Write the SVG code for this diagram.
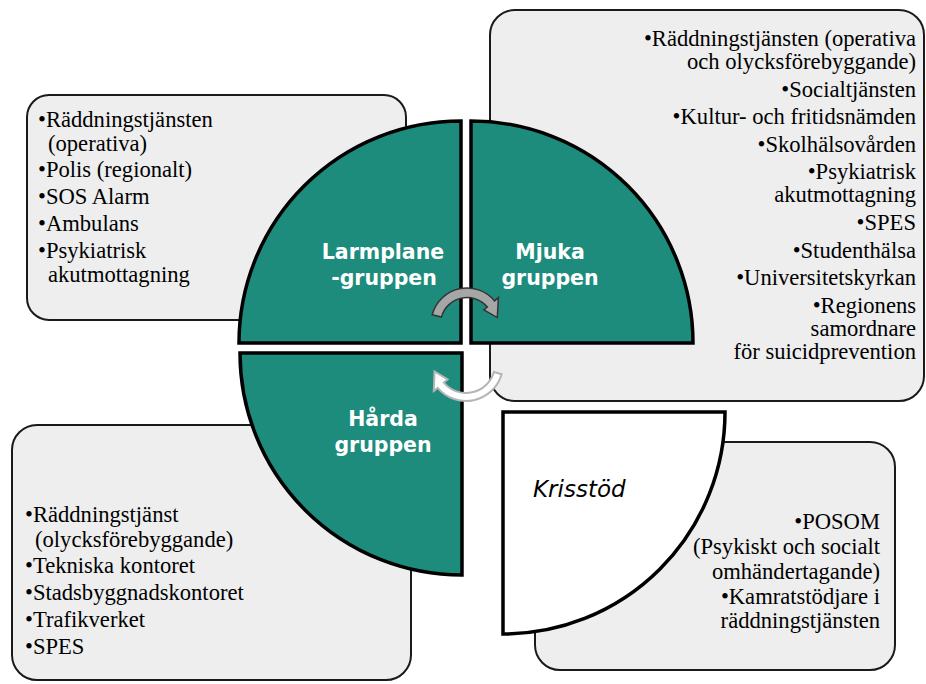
<svg xmlns="http://www.w3.org/2000/svg" width="926" height="684" viewBox="0 0 926 684">
<style>
.box{fill:#eeeeee;stroke:#1a1a1a;stroke-width:2}
.quad{fill:#1d8c7d;stroke:#000;stroke-width:3.5;stroke-linejoin:miter}
.kris{fill:#fff;stroke:#000;stroke-width:3.5}
.lbl{font-family:"DejaVu Sans",Verdana,sans-serif;font-weight:bold;font-size:20.5px;fill:#fff;text-anchor:middle}
.it{font-family:"DejaVu Sans",Verdana,sans-serif;font-style:italic;font-size:23px;fill:#000}
.t{font-family:'Liberation Serif','Times New Roman',Times,serif;font-size:22.6px;fill:#000}
.r{text-anchor:end}
</style>
<rect width="926" height="684" fill="#fff"/>
<g id="box-larm">
<rect class="box" x="27" y="95" width="379" height="225" rx="22"/>
<text class="t"><tspan x="38" y="127">•Räddningstjänsten</tspan><tspan x="48" y="151">(operativa)</tspan><tspan x="38" y="177">•Polis (regionalt)</tspan><tspan x="38" y="204">•SOS Alarm</tspan><tspan x="38" y="231">•Ambulans</tspan><tspan x="38" y="258">•Psykiatrisk</tspan><tspan x="48" y="282">akutmottagning</tspan></text>
</g>
<g id="box-mjuka">
<rect class="box" x="490" y="10" width="434" height="391" rx="25"/>
<text class="t r"><tspan x="916" y="46">•Räddningstjänsten (operativa</tspan><tspan x="916" y="69">och olycksförebyggande)</tspan><tspan x="916" y="97">•Socialtjänsten</tspan><tspan x="916" y="124">•Kultur- och fritidsnämden</tspan><tspan x="916" y="152">•Skolhälsovården</tspan><tspan x="916" y="179">•Psykiatrisk</tspan><tspan x="916" y="202">akutmottagning</tspan><tspan x="916" y="230">•SPES</tspan><tspan x="916" y="258">•Studenthälsa</tspan><tspan x="916" y="285">•Universitetskyrkan</tspan><tspan x="916" y="313">•Regionens</tspan><tspan x="916" y="336">samordnare</tspan><tspan x="916" y="359">för suicidprevention</tspan></text>
</g>
<g id="box-harda">
<rect class="box" x="12" y="425" width="399" height="255" rx="25"/>
<text class="t"><tspan x="25" y="522">•Räddningstjänst</tspan><tspan x="35" y="547">(olycksförebyggande)</tspan><tspan x="25" y="573">•Tekniska kontoret</tspan><tspan x="25" y="600">•Stadsbyggnadskontoret</tspan><tspan x="25" y="627">•Trafikverket</tspan><tspan x="25" y="654">•SPES</tspan></text>
</g>
<g id="box-kris">
<rect class="box" x="535" y="442" width="360" height="228" rx="25"/>
<text class="t r"><tspan x="880" y="529">•POSOM</tspan><tspan x="880" y="554">(Psykiskt och socialt</tspan><tspan x="880" y="579">omhändertagande)</tspan><tspan x="880" y="604">•Kamratstödjare i</tspan><tspan x="880" y="628">räddningstjänsten</tspan></text>
</g>
<g id="larmplanegruppen">
<path class="quad" d="M461,343 L239,343 A222,222 0 0 1 461,121 Z"/>
<text class="lbl"><tspan x="383" y="259">Larmplane</tspan><tspan x="384" y="285">-gruppen</tspan></text>
</g>
<g id="mjuka-gruppen">
<path class="quad" d="M471,343 L471,121 A222,222 0 0 1 693,343 Z"/>
<text class="lbl"><tspan x="550" y="259">Mjuka</tspan><tspan x="550" y="285">gruppen</tspan></text>
</g>
<g id="harda-gruppen">
<path class="quad" d="M462,353 L462,575 A222,222 0 0 1 240,353 Z"/>
<text class="lbl"><tspan x="383" y="426">Hårda</tspan><tspan x="383" y="452">gruppen</tspan></text>
</g>
<g id="krisstod">
<path class="kris" d="M503,412 L725,412 A222,222 0 0 1 503,634 Z"/>
<text class="it" x="533" y="497">Krisstöd</text>
</g>
<g id="connectors">
<path d="M432.2,314.7 A36,36 0 0 1 494.6,300.9 L498.4,297.6 L497.3,317.6 L483.9,309.9 L487.3,307.0 A26.5,26.5 0 0 0 441.4,317.1 Z" fill="#a6a6a6" stroke="#333" stroke-width="1.5" stroke-linejoin="miter"/>
<path d="M501.6,374.2 A37,37 0 0 1 437.7,387.8 L433.8,391.0 L434.5,371.5 L447.6,379.4 L443.8,382.6 A29,29 0 0 0 493.9,372.0 Z" fill="#fff" stroke="#b5b5b5" stroke-width="2" stroke-linejoin="miter"/>
</g>
</svg>
